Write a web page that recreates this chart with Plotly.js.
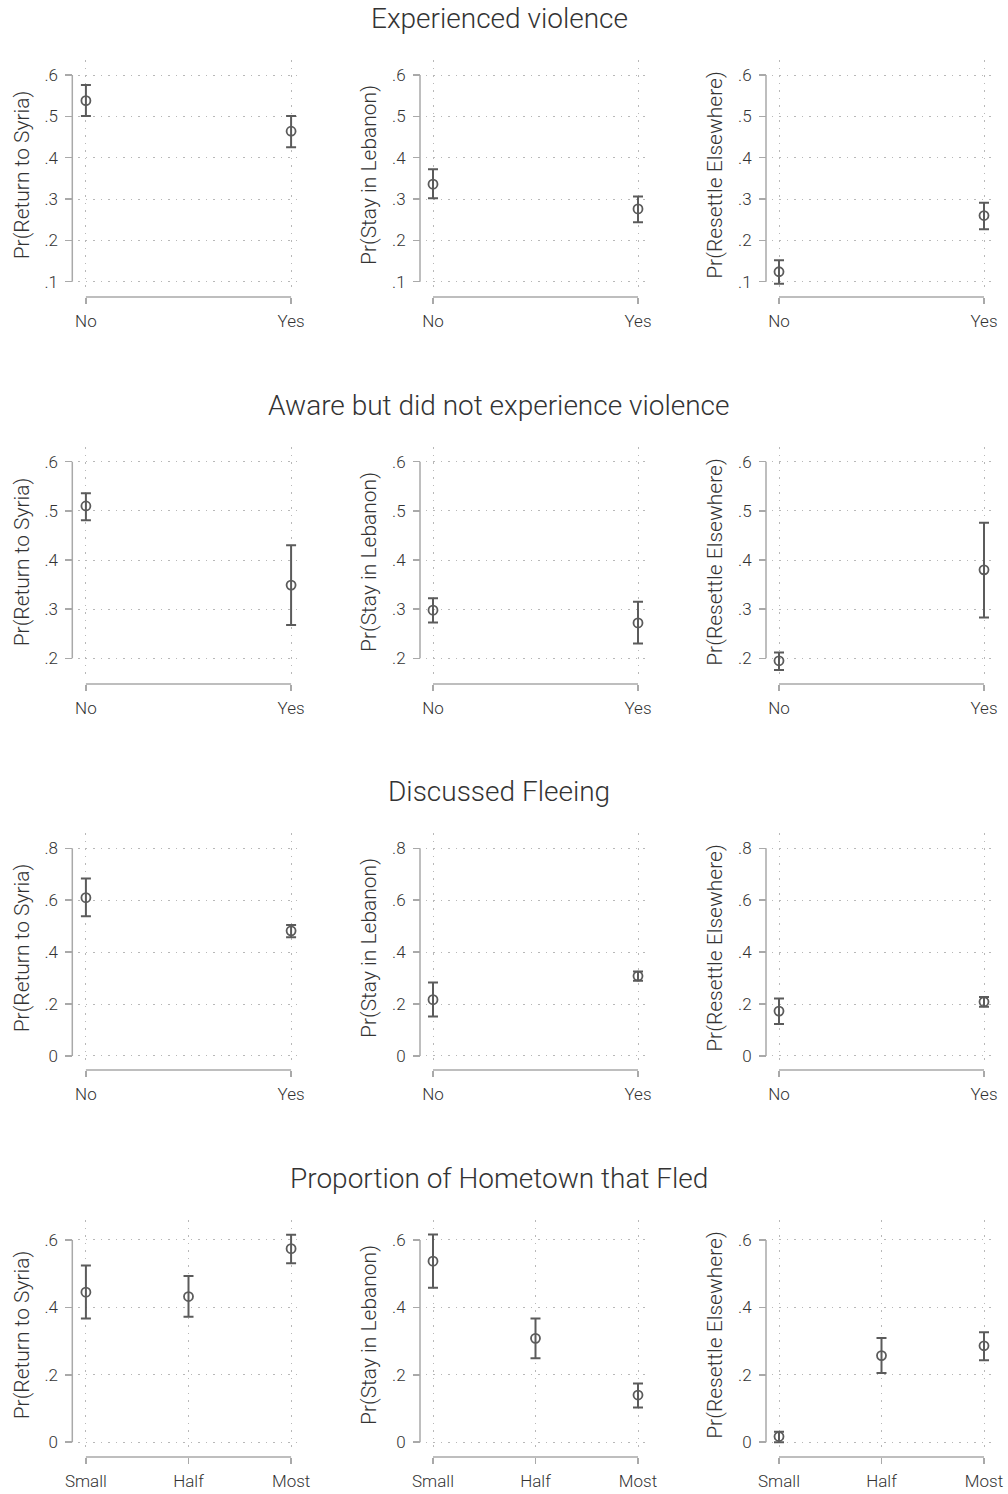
<!DOCTYPE html>
<html>
<head>
<meta charset="utf-8">
<script src="https://cdn.plot.ly/plotly-3.0.1.min.js"></script>
<style>html,body{margin:0;padding:0;background:#fff;}#chart{width:1008px;height:1494px;}</style>
</head>
<body>
<div id="chart"></div>
<script>
// ---------- data ----------
const rowTitles = ["Experienced violence", "Aware but did not experience violence", "Discussed Fleeing", "Proportion of Hometown that Fled"];
const outcomeLabels = ["Pr(Return to Syria)", "Pr(Stay in Lebanon)", "Pr(Resettle Elsewhere)"];
const yesNoCats = ["No", "Yes"];
const hometownCats = ["Small", "Half", "Most"];

// Experienced violence
const expReturnEst = [0.538, 0.464], expReturnLo = [0.501, 0.425], expReturnHi = [0.576, 0.501];
const expStayEst = [0.336, 0.276], expStayLo = [0.302, 0.244], expStayHi = [0.372, 0.306];
const expResettleEst = [0.124, 0.260], expResettleLo = [0.095, 0.227], expResettleHi = [0.152, 0.291];
// Aware but did not experience violence
const awareReturnEst = [0.510, 0.349], awareReturnLo = [0.481, 0.268], awareReturnHi = [0.536, 0.430];
const awareStayEst = [0.298, 0.272], awareStayLo = [0.273, 0.230], awareStayHi = [0.322, 0.315];
const awareResettleEst = [0.195, 0.380], awareResettleLo = [0.176, 0.283], awareResettleHi = [0.212, 0.476];
// Discussed fleeing
const discReturnEst = [0.610, 0.482], discReturnLo = [0.538, 0.457], discReturnHi = [0.684, 0.505];
const discStayEst = [0.217, 0.308], discStayLo = [0.152, 0.290], discStayHi = [0.283, 0.325];
const discResettleEst = [0.173, 0.209], discResettleLo = [0.123, 0.190], discResettleHi = [0.221, 0.227];
// Proportion of hometown that fled
const homeReturnEst = [0.445, 0.432, 0.574], homeReturnLo = [0.367, 0.372, 0.531], homeReturnHi = [0.524, 0.493, 0.615];
const homeStayEst = [0.537, 0.308, 0.140], homeStayLo = [0.458, 0.249, 0.103], homeStayHi = [0.616, 0.367, 0.174];
const homeResettleEst = [0.017, 0.257, 0.286], homeResettleLo = [0.000, 0.205, 0.243], homeResettleHi = [0.031, 0.309, 0.326];

// y tick values / labels per row
const row1Ticks = [0.1, 0.2, 0.3, 0.4, 0.5, 0.6], row1TickText = [".1", ".2", ".3", ".4", ".5", ".6"];
const row2Ticks = [0.2, 0.3, 0.4, 0.5, 0.6], row2TickText = [".2", ".3", ".4", ".5", ".6"];
const row3Ticks = [0, 0.2, 0.4, 0.6, 0.8], row3TickText = ["0", ".2", ".4", ".6", ".8"];
const row4Ticks = [0, 0.2, 0.4, 0.6], row4TickText = ["0", ".2", ".4", ".6"];

// ---------- assembly ----------
const panels = [
  [expReturnEst, expReturnLo, expReturnHi], [expStayEst, expStayLo, expStayHi], [expResettleEst, expResettleLo, expResettleHi],
  [awareReturnEst, awareReturnLo, awareReturnHi], [awareStayEst, awareStayLo, awareStayHi], [awareResettleEst, awareResettleLo, awareResettleHi],
  [discReturnEst, discReturnLo, discReturnHi], [discStayEst, discStayLo, discStayHi], [discResettleEst, discResettleLo, discResettleHi],
  [homeReturnEst, homeReturnLo, homeReturnHi], [homeStayEst, homeStayLo, homeStayHi], [homeResettleEst, homeResettleLo, homeResettleHi]
];
const rowCats = [yesNoCats, yesNoCats, yesNoCats, hometownCats];
const rowTicks = [[row1Ticks, row1TickText], [row2Ticks, row2TickText], [row3Ticks, row3TickText], [row4Ticks, row4TickText]];

// layout geometry (pixels)
const W = 1008, H = 1494;
const rowGeom = [
  {top: 60, bottom: 290, range: [0.0799, 0.6363], title: 18},
  {top: 447, bottom: 677, range: [0.162, 0.630], title: 405},
  {top: 833, bottom: 1063, range: [-0.027, 0.859], title: 791},
  {top: 1220, bottom: 1450, range: [-0.023, 0.659], title: 1178}
];
const colGeom = [
  {left: 78.4, right: 298.6, axis: 72.3},
  {left: 425.5, right: 645.5, axis: 420},
  {left: 771.5, right: 991.5, axis: 766}
];

const ink = "#5b5b5b";
const axisGray = "#a9a9a9";
const gridGray = "#b8b8b8";
const textCol = "#333333";
const fontFam = "Roboto, 'Open Sans', sans-serif";

const traces = [];
const layout = {
  width: W, height: H,
  margin: {l: 0, r: 0, t: 0, b: 0},
  paper_bgcolor: "#fff", plot_bgcolor: "#fff",
  showlegend: false,
  font: {family: fontFam, color: textCol, weight: 300},
  shapes: [], annotations: []
};

for (let r = 0; r < 4; r++) {
  const g = rowGeom[r];
  const cats = rowCats[r];
  const n = cats.length;
  const pad = 7.5 / (205 / (n - 1));
  layout.annotations.push({
    text: rowTitles[r], xref: "paper", yref: "paper",
    x: 499 / W, y: 1 - g.title / H, xanchor: "center", yanchor: "middle",
    showarrow: false, font: {size: 28, family: fontFam, color: textCol, weight: 300}
  });
  for (let c = 0; c < 3; c++) {
    const k = r * 3 + c + 1;
    const cg = colGeom[c];
    const [est, lo, hi] = panels[k - 1];
    const xa = "xaxis" + k, ya = "yaxis" + k;
    traces.push({
      type: "scatter", mode: "markers",
      x: cats, y: est,
      xaxis: "x" + k, yaxis: "y" + k,
      marker: {symbol: "circle-open", size: 9, color: ink, line: {width: 1.8, color: ink}},
      error_y: {
        type: "data", symmetric: false,
        array: est.map((v, i) => hi[i] - v),
        arrayminus: est.map((v, i) => v - lo[i]),
        color: ink, thickness: 2, width: 5
      },
      cliponaxis: false, hoverinfo: "skip"
    });
    const xLinePos = 1 - (g.bottom + 7) / H;
    const yLinePos = cg.axis / W;
    layout[xa] = {
      domain: [cg.left / W, cg.right / W],
      anchor: "free", position: xLinePos,
      type: "category", categoryorder: "array", categoryarray: cats,
      range: [-pad, n - 1 + pad],
      showline: false, zeroline: false,
      showgrid: true, gridcolor: gridGray, gridwidth: 1, griddash: "1.5px,6px",
      ticks: "outside", ticklen: 6, tickwidth: 1.5, tickcolor: axisGray,
      ticklabelstandoff: 3,
      tickfont: {size: 17, family: fontFam, color: textCol, weight: 300},
      fixedrange: true, automargin: false
    };
    layout[ya] = {
      domain: [1 - g.bottom / H, 1 - g.top / H],
      anchor: "free", position: yLinePos,
      range: g.range,
      tickvals: rowTicks[r][0], ticktext: rowTicks[r][1], tickmode: "array",
      showline: false, zeroline: false,
      showgrid: true, gridcolor: gridGray, gridwidth: 1, griddash: "1.5px,6px",
      ticks: "outside", ticklen: 7, tickwidth: 1.5, tickcolor: axisGray,
      ticklabelstandoff: 4,
      tickfont: {size: 17, family: fontFam, color: textCol, weight: 300},
      title: {text: outcomeLabels[c], font: {size: 21, family: fontFam, color: textCol, weight: 300}, standoff: 8},
      fixedrange: true, automargin: false
    };
    // Stata-style axis lines spanning only the tick / category range
    const ticks = rowTicks[r][0];
    layout.shapes.push({
      type: "line", xref: "paper", yref: "y" + k,
      x0: yLinePos, x1: yLinePos, y0: ticks[0], y1: ticks[ticks.length - 1],
      line: {color: axisGray, width: 1.5}
    });
    layout.shapes.push({
      type: "line", xref: "x" + k, yref: "paper",
      x0: cats[0], x1: cats[n - 1], y0: xLinePos, y1: xLinePos,
      line: {color: axisGray, width: 1.5}
    });
  }
}

Plotly.newPlot("chart", traces, layout, {staticPlot: true, displayModeBar: false});
</script>
</body>
</html>
